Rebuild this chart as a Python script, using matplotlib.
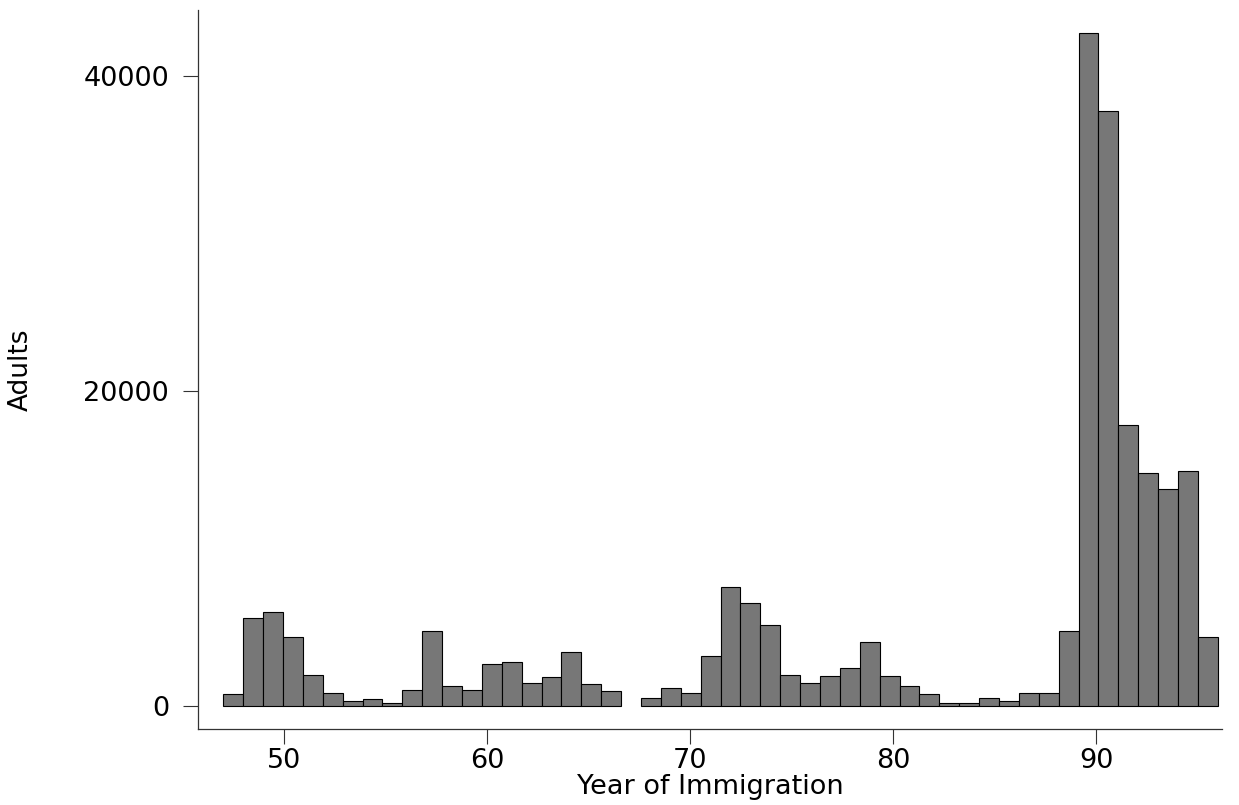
import matplotlib
matplotlib.use("Agg")
import matplotlib.pyplot as plt

# adults by year of immigration (one 0.98-wide bin per year, 47..96; 67 is empty)
years = [47, 48, 49, 50, 51, 52, 53, 54, 55, 56,
         57, 58, 59, 60, 61, 62, 63, 64, 65, 66,
         68, 69, 70, 71, 72, 73, 74, 75, 76, 77,
         78, 79, 80, 81, 82, 83, 84, 85, 86, 87,
         88, 89, 90, 91, 92, 93, 94, 95, 96]
adults = [740, 5600, 5980, 4400, 1990, 820, 340, 460, 210, 1000,
          4760, 1290, 1000, 2650, 2770, 1480, 1840, 3430, 1400, 950,
          490, 1160, 800, 3170, 7520, 6510, 5120, 1970, 1480, 1880,
          2430, 4080, 1920, 1270, 740, 210, 210, 510, 340, 850,
          850, 4770, 42700, 37770, 17830, 14790, 13800, 14920, 4400]

xticks = [50, 60, 70, 80, 90]
yticks = [0, 20000, 40000]

first, last, nbins = 47, 96, 50
width = (last - first) / nbins
lefts = [first + (y - first) * width for y in years]

plt.rcParams['font.family'] = ['DejaVu Sans']

fig = plt.figure(figsize=(12.39, 8.05), dpi=100)
ax = fig.add_axes([0.1598, 0.0944, 0.8265, 0.8932])

ax.bar(lefts, adults, width=width, align='edge', color='#777777',
       edgecolor='black', linewidth=0.8)

ax.set_xlim(45.75, 96.21)
ax.set_ylim(-1460, 44168)

ax.set_xticks(xticks)
ax.set_yticks(yticks)
ax.set_xticklabels([str(t) for t in xticks])
ax.set_yticklabels([str(t) for t in yticks])

ax.tick_params(axis='both', direction='out', length=10.8, width=0.8,
               labelsize=19.5, color='#333333')
ax.tick_params(axis='x', pad=3)
ax.tick_params(axis='y', pad=10)

for side in ['top', 'right']:
    ax.spines[side].set_visible(False)
for side in ['left', 'bottom']:
    ax.spines[side].set_linewidth(0.9)
    ax.spines[side].set_color('#333333')

ax.set_xlabel("Year of Immigration", fontsize=19.5, labelpad=0)
ax.set_ylabel("Adults", fontsize=19, labelpad=36)

fig.savefig("out.png", dpi=100)
plt.close(fig)
